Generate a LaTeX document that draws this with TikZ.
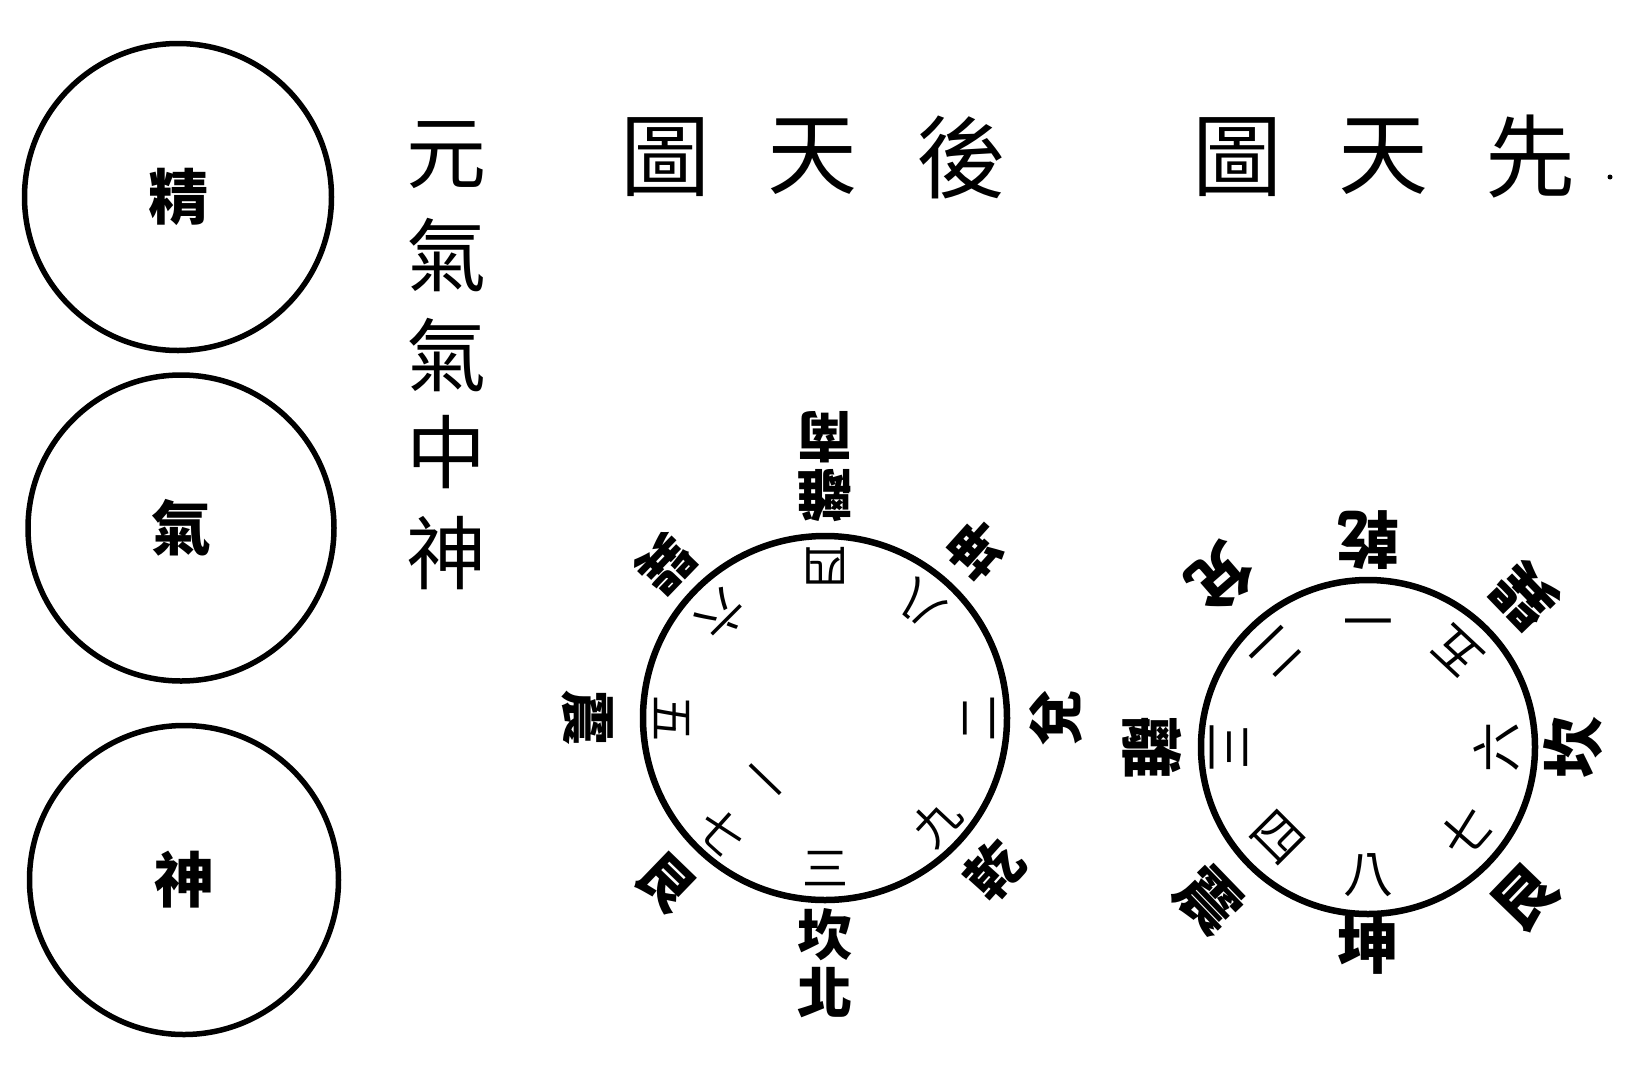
\documentclass[tikz,border=0pt]{standalone}
\usepackage{fontspec}
\setmainfont{Noto Sans CJK TC}
\newcommand\plab[6]{\node[#6, rotate={#3+90}] (#1) at ([shift={(#3:#4)}]#5) {#2};}
\begin{document}
\begin{tikzpicture}[x=1pt,y=1pt,
  bigring/.style={circle, draw, line width=5.5pt, inner sep=0pt, minimum size=#1},
  ring/.style={circle, draw, line width=6.5pt, inner sep=0pt, minimum size=#1},
  bigchar/.style={font=\fontsize{60}{60}\selectfont\bfseries},
  vchar/.style={font=\fontsize{80}{80}\selectfont, inner sep=0pt},
  tchar/.style={font=\fontsize{90}{90}\selectfont, inner sep=0pt},
  outA/.style={font=\fontsize{55}{55}\selectfont\bfseries, inner sep=0pt},
  inA/.style={font=\fontsize{46}{46}\selectfont, inner sep=0pt},
  outB/.style={font=\fontsize{62}{62}\selectfont\bfseries, inner sep=0pt},
  inB/.style={font=\fontsize{50}{50}\selectfont, inner sep=0pt},
]
\useasboundingbox (0,0) rectangle (1625,-1069);
\fill[white] (0,0) rectangle (1625,-1069);

% three circles on the left
\node[bigring=307pt, bigchar] (jing) at (178,-197) {精};
\node[bigring=306pt, bigchar] (qi)   at (181,-528) {氣};
\node[bigring=309pt, bigchar] (shen) at (184,-880) {神};

% vertical text
\node[vchar] (v1) at (446,-155) {元};
\node[vchar] (v2) at (446,-255) {氣};
\node[vchar] (v3) at (446,-355) {氣};
\node[vchar] (v4) at (446,-452) {中};
\node[vchar] (v5) at (446,-553) {神};

% titles
\node[tchar] (t1) at (665,-157) {圖};
\node[tchar] (t2) at (812,-157) {天};
\node[tchar] (t3) at (961,-157) {後};
\node[tchar] (t4) at (1237,-157) {圖};
\node[tchar] (t5) at (1383,-157) {天};
\node[tchar] (t6) at (1530,-157) {先};
\fill (1610,-177) circle (2.5pt);

% later heaven circle
\node[ring=364pt] (hou) at (825,-718) {};
\plab{hLi}{離}{90}{222}{hou.center}{outA}
\plab{hNan}{南}{90}{281}{hou.center}{outA}
\plab{hSi}{四}{90}{152}{hou.center}{inA}
\plab{hKun}{坤}{48}{226}{hou.center}{outA}
\plab{hBa}{八}{50}{149}{hou.center}{inA}
\plab{hDui}{兌}{0}{231}{hou.center}{outA}
\plab{hEr}{二}{0}{154}{hou.center}{inA}
\plab{hQian}{乾}{-42}{228}{hou.center}{outA}
\plab{hJiu}{九}{-43}{153}{hou.center}{inA}
\plab{hKan}{坎}{-90}{217}{hou.center}{outA}
\plab{hBei}{北}{-90}{275}{hou.center}{outA}
\plab{hSan}{三}{-90}{151}{hou.center}{inA}
\plab{hGen}{艮}{226}{229}{hou.center}{outA}
\plab{hQi}{七}{228}{154}{hou.center}{inA}
\plab{hYi}{一}{226}{94}{hou.center}{inA}
\plab{hZhen}{震}{180}{237}{hou.center}{outA}
\plab{hWu}{五}{180}{153}{hou.center}{inA}
\plab{hXun}{巽}{136}{221}{hou.center}{outA}
\plab{hLiu}{六}{135}{146}{hou.center}{inA}

% earlier heaven circle
\node[ring=334pt] (xian) at (1368,-747) {};
\plab{xQian}{乾}{90}{207}{xian.center}{outB}
\plab{xYi}{一}{90}{135}{xian.center}{inB}
\plab{xDui}{兌}{131}{225}{xian.center}{outB}
\plab{xEr}{二}{134}{132}{xian.center}{inB}
\plab{xLi}{離}{180}{216}{xian.center}{outB}
\plab{xSan}{三}{180}{139}{xian.center}{inB}
\plab{xZhen}{震}{224}{220}{xian.center}{outB}
\plab{xSi}{四}{225}{128}{xian.center}{inB}
\plab{xKun}{坤}{-90}{198}{xian.center}{outB}
\plab{xBa}{八}{-90}{128}{xian.center}{inB}
\plab{xGen}{艮}{-44}{218}{xian.center}{outB}
\plab{xQi}{七}{-41}{129}{xian.center}{inB}
\plab{xKan}{坎}{0}{205}{xian.center}{outB}
\plab{xLiu}{六}{0}{128}{xian.center}{inB}
\plab{xXun}{巽}{44}{218}{xian.center}{outB}
\plab{xWu}{五}{47}{130}{xian.center}{inB}
\end{tikzpicture}
\end{document}
